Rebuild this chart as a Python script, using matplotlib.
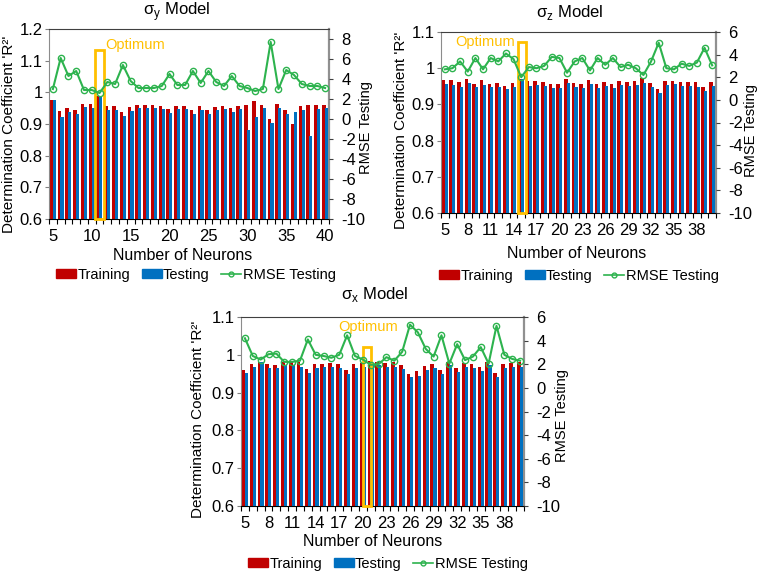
import numpy as np
import matplotlib
matplotlib.use("Agg")
import matplotlib.pyplot as plt
from matplotlib.patches import Rectangle, Patch
from matplotlib.lines import Line2D

plt.rcParams['font.family'] = ['Liberation Sans', 'DejaVu Sans']
plt.rcParams['mathtext.fontset'] = 'custom'
plt.rcParams['mathtext.rm'] = 'Liberation Sans'

neurons = list(range(5, 41))

# sigma_y model
sy_train = [0.975, 0.942, 0.950, 0.944, 0.963, 0.963, 0.987, 0.956, 0.956, 0.939,
            0.954, 0.961, 0.961, 0.961, 0.958, 0.947, 0.958, 0.958, 0.944, 0.956,
            0.945, 0.955, 0.958, 0.949, 0.958, 0.961, 0.974, 0.961, 0.916, 0.963,
            0.943, 0.901, 0.956, 0.959, 0.959, 0.961]
sy_test = [0.975, 0.921, 0.937, 0.933, 0.953, 0.950, 0.987, 0.945, 0.945, 0.926,
           0.942, 0.949, 0.949, 0.949, 0.948, 0.936, 0.947, 0.947, 0.933, 0.945,
           0.933, 0.943, 0.947, 0.938, 0.947, 0.881, 0.922, 0.950, 0.903, 0.952,
           0.932, 0.938, 0.945, 0.863, 0.948, 0.950]
sy_rmse = [3.0, 6.1, 4.3, 4.8, 2.9, 2.9, 2.6, 3.7, 3.5, 5.4,
           3.8, 3.1, 3.1, 3.1, 3.3, 4.5, 3.4, 3.4, 4.8, 3.6,
           4.8, 3.7, 3.3, 4.3, 3.3, 3.1, 2.8, 3.0, 7.7, 3.0,
           4.9, 4.4, 3.5, 3.3, 3.3, 3.1]
sy_opt = 11

# sigma_z model
sz_train = [0.967, 0.967, 0.961, 0.970, 0.957, 0.967, 0.957, 0.960, 0.952, 0.958,
            0.971, 0.965, 0.966, 0.963, 0.956, 0.956, 0.970, 0.960, 0.957, 0.968,
            0.957, 0.961, 0.957, 0.964, 0.961, 0.965, 0.972, 0.958, 0.942, 0.965,
            0.966, 0.962, 0.963, 0.961, 0.947, 0.963]
sz_test = [0.956, 0.954, 0.949, 0.958, 0.947, 0.954, 0.947, 0.948, 0.942, 0.947,
           0.971, 0.952, 0.954, 0.952, 0.945, 0.945, 0.959, 0.948, 0.945, 0.956,
           0.946, 0.950, 0.946, 0.953, 0.950, 0.953, 0.960, 0.948, 0.931, 0.953,
           0.955, 0.950, 0.952, 0.949, 0.936, 0.951]
sz_rmse = [2.7, 2.8, 3.4, 2.5, 3.7, 2.7, 3.7, 3.4, 4.1, 3.6,
           2.0, 2.9, 2.8, 3.0, 3.8, 3.7, 2.4, 3.4, 3.7, 2.6,
           3.7, 3.1, 3.7, 2.9, 3.1, 2.8, 2.2, 3.4, 5.05, 2.8,
           2.7, 3.2, 3.0, 3.3, 4.6, 3.05]
sz_opt = 15

# sigma_x model
sx_train = [0.961, 0.976, 0.982, 0.975, 0.974, 0.982, 0.980, 0.981, 0.963, 0.975,
            0.976, 0.978, 0.975, 0.960, 0.976, 0.979, 0.984, 0.982, 0.977, 0.981,
            0.974, 0.949, 0.957, 0.971, 0.976, 0.959, 0.981, 0.966, 0.979, 0.976,
            0.968, 0.982, 0.951, 0.975, 0.979, 0.981]
sx_test = [0.951, 0.967, 0.980, 0.964, 0.964, 0.972, 0.972, 0.968, 0.952, 0.964,
           0.967, 0.967, 0.965, 0.948, 0.966, 0.967, 0.976, 0.972, 0.967, 0.969,
           0.962, 0.940, 0.945, 0.960, 0.965, 0.948, 0.972, 0.955, 0.968, 0.966,
           0.958, 0.972, 0.940, 0.964, 0.968, 0.968]
sx_rmse = [4.2, 2.7, 2.4, 2.85, 2.9, 2.2, 2.2, 2.3, 4.1, 2.8,
           2.7, 2.55, 2.8, 4.45, 2.7, 2.4, 1.95, 2.0, 2.6, 2.3,
           3.05, 5.35, 4.7, 3.3, 2.65, 4.45, 2.05, 3.7, 2.35, 2.65,
           3.45, 2.05, 5.25, 2.8, 2.45, 2.3]
sx_opt = 21

RED = '#C00000'
BLUE = '#0070C0'
GREEN = '#2DB34E'
ORANGE = '#FFC000'
TICK_FS = 12

W, H = 759, 573
fig = plt.figure(figsize=(W / 100, H / 100), dpi=100)


def rect(l, r, t, b):
    return [l / W, 1 - b / H, (r - l) / W, (b - t) / H]


def panel(box, train, test, rmse, yl, yticks, r_lim, r_ticks, xt, opt, box_off, box_w, box_top,
          opt_txt_xy, opt_ha):
    ax = fig.add_axes(rect(*box))
    x = np.array(neurons)
    ax.bar(x - 0.17, np.array(train) - yl[0], 0.46, bottom=yl[0], color=RED, zorder=2)
    ax.bar(x + 0.17, np.array(test) - yl[0], 0.40, bottom=yl[0], color=BLUE, zorder=3)
    ax.set_xlim(4.5, 40.5)
    ax.set_ylim(*yl)
    ax.set_yticks(yticks)
    ax.set_yticklabels([('%g' % v) for v in yticks])
    ax.set_xticks(xt)
    ax.set_xticklabels([str(v) for v in xt])
    ax.set_xticks(np.arange(4.5, 41, 1.0), minor=True)
    ax.tick_params(axis='x', which='major', length=0, pad=7, labelsize=TICK_FS)
    ax.tick_params(axis='x', which='minor', length=3.5, width=0.8, color='#000000')
    ax.tick_params(axis='y', length=3, width=0.8, pad=1.5, labelsize=TICK_FS, color='#808080')
    ax.spines['left'].set_color('#8c8c8c')
    ax.spines['top'].set_color('#404040')
    ax.spines['bottom'].set_color('#000000')
    ax.spines['right'].set_color('#909090')
    ax.spines['right'].set_linewidth(1.6)
    ax.add_patch(Rectangle((opt + box_off - box_w / 2, yl[0]), box_w, box_top - yl[0],
                           fill=False, edgecolor=ORANGE, linewidth=2, zorder=6, clip_on=False))
    ax.text(opt_txt_xy[0], opt_txt_xy[1], 'Optimum', color=ORANGE, fontsize=10.5,
            ha=opt_ha, va='center', zorder=7)
    ax2 = ax.twinx()
    ax2.plot(x, rmse, color=GREEN, lw=1.5, marker='o', ms=4.5, mfc='none', mec=GREEN,
             mew=1.0, zorder=5)
    ax2.set_ylim(*r_lim)
    ax2.set_yticks(r_ticks)
    ax2.set_yticklabels([str(v) for v in r_ticks])
    ax2.tick_params(axis='y', length=3, width=0.8, pad=6, labelsize=TICK_FS, color='#404040')
    for s in ax2.spines.values():
        s.set_visible(False)
    return ax, ax2


# panel 1 : sigma_y
panel((49, 329, 29, 219), sy_train, sy_test, sy_rmse, (0.6, 1.2),
      [0.6, 0.7, 0.8, 0.9, 1.0, 1.1, 1.2], (-10, 9), list(range(-10, 9, 2)),
      list(range(5, 41, 5)), sy_opt, -0.06, 1.15, 1.135, (sy_opt + 0.75, 1.15), 'left')
# panel 2 : sigma_z
panel((441, 716, 32, 213), sz_train, sz_test, sz_rmse, (0.6, 1.1),
      [0.6, 0.7, 0.8, 0.9, 1.0, 1.1], (-10, 6), list(range(-10, 7, 2)),
      list(range(5, 41, 3)), sz_opt, 0.1, 1.0, 1.071, (sz_opt - 0.85, 1.073), 'right')
# panel 3 : sigma_x
panel((241, 524, 317, 506), sx_train, sx_test, sx_rmse, (0.6, 1.1),
      [0.6, 0.7, 0.8, 0.9, 1.0, 1.1], (-10, 6), list(range(-10, 7, 2)),
      list(range(5, 41, 3)), sx_opt, -0.44, 1.04, 1.02, (sx_opt - 0.3, 1.073), 'center')


def ftext(xp, yp, s, **kw):
    fig.text(xp / W, 1 - yp / H, s, ha='center', va='center', **kw)


titles = [(177, 12, 'σ$_\\mathregular{y}$ Model'), (570, 12, 'σ$_\\mathregular{z}$ Model'),
          (375, 295, 'σ$_\\mathregular{x}$ Model')]
for tx, ty, s in titles:
    ftext(tx, ty, s, fontsize=12)

ylab = "Determination Coefficient 'R²'"
for tx, ty in [(9, 134), (401, 130), (198, 419)]:
    ftext(tx, ty, ylab, fontsize=11, rotation=90)
for tx, ty in [(366, 127), (751, 130), (562, 415)]:
    ftext(tx, ty, 'RMSE Testing', fontsize=10.5, rotation=90)
for tx, ty in [(183, 255), (577, 254), (373, 542)]:
    ftext(tx, ty, 'Number of Neurons', fontsize=11.5)

handles = [Patch(color=RED), Patch(color=BLUE),
           Line2D([], [], color=GREEN, lw=1.2, marker='o', ms=3.5, mfc='none', mec=GREEN)]
labels = ['Training', 'Testing', 'RMSE Testing']
for cx, cy in [(196, 275), (579, 276), (388, 564)]:
    fig.legend(handles, labels, loc='center', bbox_to_anchor=(cx / W, 1 - cy / H), ncol=3,
               frameon=False, fontsize=10.5, handlelength=1.35, handleheight=0.6,
               handletextpad=0.1, columnspacing=0.8, borderpad=0, borderaxespad=0)

fig.savefig('out.png', dpi=100)
